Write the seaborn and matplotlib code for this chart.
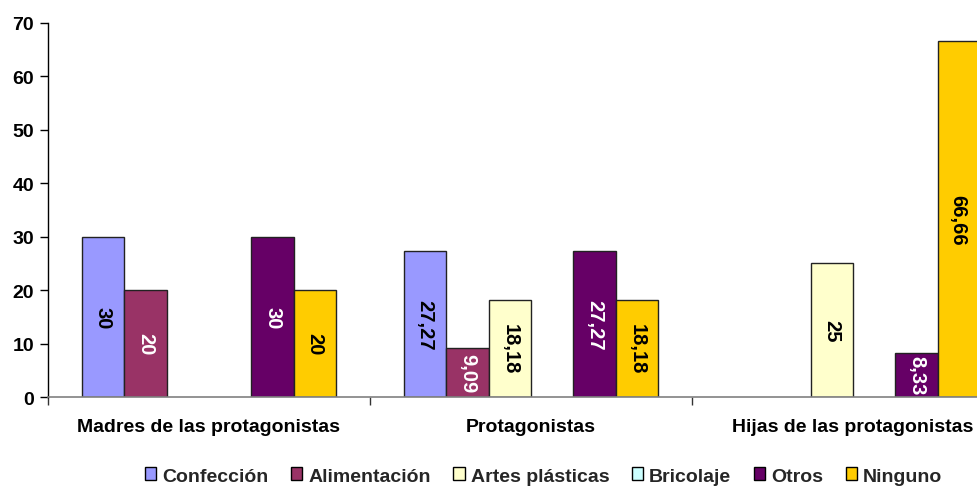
import matplotlib
matplotlib.use("Agg")
import matplotlib.pyplot as plt
import seaborn as sns
import pandas as pd
import numpy as np
from matplotlib.ticker import FixedLocator, NullFormatter

groups = ["Madres de las protagonistas", "Protagonistas", "Hijas de las protagonistas"]
series = ["Confección", "Alimentación", "Artes plásticas", "Bricolaje", "Otros", "Ninguno"]
colors = ["#9999FF", "#993366", "#FFFFCC", "#CCFFFF", "#660066", "#FFCC00"]

confeccion = [30, 27.27, None]
alimentacion = [20, 9.09, None]
artes = [None, 18.18, 25]
bricolaje = [None, None, None]
otros = [30, 27.27, 8.33]
ninguno = [20, 18.18, 66.66]

values = [confeccion, alimentacion, artes, bricolaje, otros, ninguno]
rows = []
for s, vals in zip(series, values):
    for g, v in zip(groups, vals):
        if v is not None:
            rows.append({"grupo": g, "serie": s, "valor": v})
df = pd.DataFrame(rows)

sns.set_theme(style="white")
plt.rcParams["font.family"] = ["Liberation Sans", "DejaVu Sans"]
plt.rcParams["font.weight"] = "bold"

fig = plt.figure(figsize=(9.78, 4.89), dpi=100)
ax = fig.add_axes([0.049, 0.186, 0.951, 0.765])

sns.barplot(data=df, x="grupo", y="valor", hue="serie", order=groups,
            hue_order=series, palette=dict(zip(series, colors)), ax=ax,
            width=0.79, edgecolor="#222222", linewidth=1.0, saturation=1,
            errorbar=None, legend=True)

for cont in ax.containers:
    if len(cont) == 0:
        continue
    fc = cont[0].get_facecolor()
    lum = 0.299 * fc[0] + 0.587 * fc[1] + 0.114 * fc[2]
    tc = "white" if lum < 0.5 else "black"
    labels = [f"{b.get_height():g}".replace(".", ",") for b in cont]
    ax.bar_label(cont, labels=labels, label_type="center", rotation=270,
                 color=tc, fontsize=14.5, fontweight="bold")

ax.set_ylim(0, 70)
ax.set_xlim(-0.5, 2.388)
ax.set_yticks(range(0, 71, 10))
ax.set_xlabel("")
ax.set_ylabel("")
ax.tick_params(axis="y", which="major", left=True, length=6, width=1,
               color="black", labelsize=14, pad=4)
ax.tick_params(axis="x", which="major", bottom=False, labelsize=14, pad=9)
ax.xaxis.set_minor_locator(FixedLocator([-0.5, 0.5, 1.5, 2.5]))
ax.xaxis.set_minor_formatter(NullFormatter())
ax.tick_params(axis="x", which="minor", bottom=True, length=6, width=1,
               color="#333333")
for lab in ax.get_xticklabels() + ax.get_yticklabels():
    lab.set_fontweight("bold")
    lab.set_color("black")

ax.spines["top"].set_visible(False)
ax.spines["right"].set_visible(False)
ax.spines["left"].set_color("black")
ax.spines["left"].set_linewidth(1)
ax.spines["bottom"].set_color("#808080")
ax.spines["bottom"].set_linewidth(1.2)

handles, labs = ax.get_legend_handles_labels()
ax.get_legend().remove()
leg = fig.legend(handles, labs, loc="center", bbox_to_anchor=(543.5 / 978, 1 - 477 / 489),
                 ncol=6, frameon=False, handlelength=0.6,
                 handleheight=0.6, handletextpad=0.3, columnspacing=1.15,
                 prop={"weight": "bold", "size": 14})
for h in leg.legend_handles:
    h.set_edgecolor("black")
    h.set_linewidth(1)

fig.savefig("out.png", dpi=100, facecolor="white")
